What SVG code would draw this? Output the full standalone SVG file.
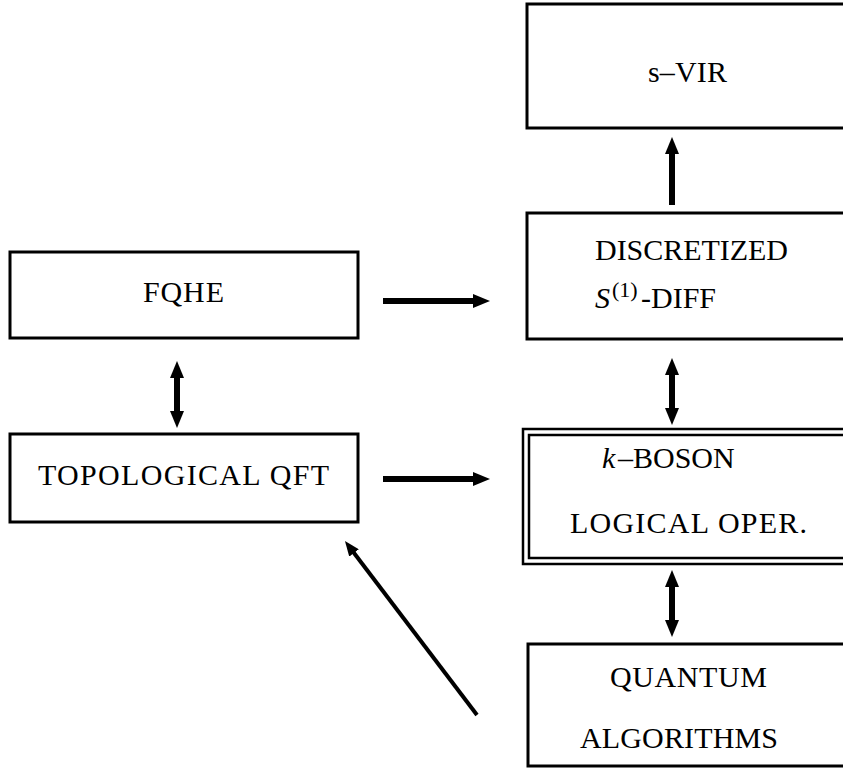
<svg xmlns="http://www.w3.org/2000/svg" width="843" height="768" viewBox="0 0 843 768">
<defs>
<style>
.box{fill:#fff;stroke:#000;stroke-width:3}
.dbl{fill:none;stroke:#000;stroke-width:2.5}
.t{font-family:"Liberation Serif","Times New Roman",serif;font-size:30px;fill:#000}
.c{stroke:#000;stroke-width:6;fill:none}
.d{stroke:#000;stroke-width:4;fill:none}
</style>
<marker id="ah" markerUnits="userSpaceOnUse" viewBox="0 0 17 14" markerWidth="17" markerHeight="14" refX="7" refY="7" orient="auto-start-reverse">
<path d="M0,0 L17,7 L0,14 z" fill="#000"/>
</marker>
<marker id="ahs" markerUnits="userSpaceOnUse" viewBox="0 0 15 12" markerWidth="15" markerHeight="12" refX="5" refY="6" orient="auto">
<path d="M0,0 L15,6 L0,12 z" fill="#000"/>
</marker>
</defs>
<rect width="843" height="768" fill="#fff"/>
<g id="svir">
<rect class="box" x="527" y="4" width="340" height="124"/>
<text class="t" x="648" y="82" textLength="79">s–VIR</text>
</g>
<g id="discretized">
<rect class="box" x="527" y="213" width="340" height="126"/>
<text class="t" x="595" y="260" textLength="193">DISCRETIZED</text>
<text class="t" y="308"><tspan x="595" font-style="italic">S</tspan><tspan x="612" dy="-11" font-size="22">(1)</tspan><tspan x="641" dy="11">-DIFF</tspan></text>
</g>
<g id="fqhe">
<rect class="box" x="10" y="252" width="348" height="86"/>
<text class="t" x="143" y="302" textLength="81">FQHE</text>
</g>
<g id="tqft">
<rect class="box" x="10" y="434" width="348" height="88"/>
<text class="t" x="38" y="485" textLength="291">TOPOLOGICAL QFT</text>
</g>
<g id="kboson">
<rect class="dbl" x="523" y="429" width="340" height="135"/>
<rect class="dbl" x="529" y="435" width="340" height="123"/>
<text class="t" y="468"><tspan x="602" font-style="italic">k</tspan><tspan x="618">–BOSON</tspan></text>
<text class="t" x="570" y="533" textLength="237">LOGICAL OPER.</text>
</g>
<g id="quantum">
<rect class="box" x="528" y="644" width="340" height="122"/>
<text class="t" x="610" y="687" textLength="157">QUANTUM</text>
<text class="t" x="580" y="748" textLength="198">ALGORITHMS</text>
</g>
<g id="connectors">
<line class="c" x1="383" y1="301" x2="480" y2="301" marker-end="url(#ah)"/>
<line class="c" x1="383" y1="479" x2="480" y2="479" marker-end="url(#ah)"/>
<line class="c" x1="177" y1="371" x2="177" y2="418" marker-start="url(#ah)" marker-end="url(#ah)"/>
<line class="c" x1="672" y1="205" x2="672" y2="147" marker-end="url(#ah)"/>
<line class="c" x1="672" y1="368" x2="672" y2="415" marker-start="url(#ah)" marker-end="url(#ah)"/>
<line class="c" x1="672" y1="580" x2="672" y2="627" marker-start="url(#ah)" marker-end="url(#ah)"/>
<line class="d" x1="477" y1="715" x2="351" y2="549" marker-end="url(#ahs)"/>
</g>
</svg>
